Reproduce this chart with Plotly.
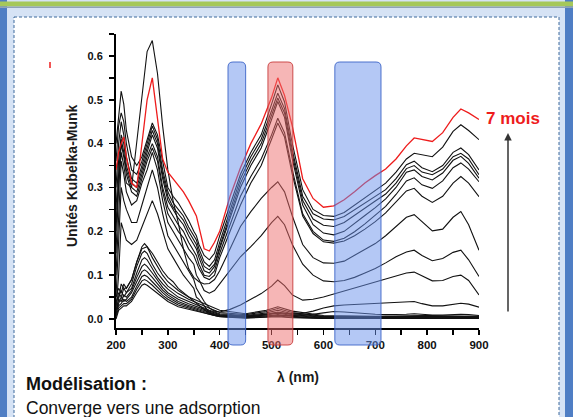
import plotly.graph_objects as go

# ---------------- data ----------------
wavelength = [200, 205, 210, 215, 220, 230, 240, 250, 260, 270, 280, 290, 300, 310, 320,
              330, 340, 350, 355, 360, 370, 380, 390, 400, 420, 440, 460, 480, 500, 512,
              525, 540, 560, 580, 600, 620, 640, 660, 680, 700, 720, 740, 760, 775, 790,
              810, 830, 850, 865, 880, 900]

mois7 = [0.34, 0.38, 0.40, 0.415, 0.37, 0.31, 0.30, 0.40, 0.50, 0.55, 0.46, 0.365, 0.335, 0.32, 0.305,
         0.29, 0.27, 0.245, 0.235, 0.21, 0.16, 0.155, 0.175, 0.20, 0.28, 0.345, 0.40, 0.445, 0.505, 0.55,
         0.51, 0.44, 0.32, 0.275, 0.255, 0.258, 0.272, 0.29, 0.31, 0.327, 0.342, 0.365, 0.395, 0.413, 0.41,
         0.405, 0.425, 0.46, 0.479, 0.47, 0.455]

c1 = [0.40, 0.47, 0.52, 0.49, 0.43, 0.37, 0.35, 0.37, 0.41, 0.447, 0.42, 0.36, 0.30, 0.28, 0.265,
      0.245, 0.225, 0.20, 0.19, 0.17, 0.145, 0.135, 0.15, 0.19, 0.26, 0.33, 0.38, 0.42, 0.49, 0.534,
      0.495, 0.40, 0.295, 0.25, 0.236, 0.234, 0.243, 0.26, 0.276, 0.292, 0.31, 0.335, 0.365, 0.378, 0.374,
      0.37, 0.392, 0.428, 0.443, 0.43, 0.409]
c2 = [0.36, 0.44, 0.47, 0.45, 0.40, 0.34, 0.33, 0.36, 0.40, 0.44, 0.41, 0.34, 0.29, 0.265, 0.25,
      0.235, 0.21, 0.19, 0.18, 0.16, 0.13, 0.12, 0.135, 0.175, 0.25, 0.32, 0.37, 0.41, 0.475, 0.515,
      0.48, 0.385, 0.28, 0.24, 0.228, 0.226, 0.234, 0.249, 0.264, 0.279, 0.295, 0.32, 0.352, 0.36, 0.345,
      0.336, 0.35, 0.38, 0.39, 0.375, 0.34]
c3 = [0.30, 0.40, 0.45, 0.42, 0.37, 0.32, 0.31, 0.35, 0.39, 0.43, 0.40, 0.33, 0.28, 0.255, 0.24,
      0.225, 0.20, 0.18, 0.17, 0.15, 0.12, 0.112, 0.125, 0.165, 0.24, 0.31, 0.36, 0.40, 0.465, 0.504,
      0.47, 0.375, 0.27, 0.228, 0.214, 0.211, 0.22, 0.237, 0.254, 0.269, 0.285, 0.31, 0.343, 0.35, 0.335,
      0.329, 0.342, 0.37, 0.378, 0.365, 0.329]
c4 = [0.25, 0.36, 0.42, 0.40, 0.35, 0.31, 0.30, 0.34, 0.38, 0.42, 0.39, 0.32, 0.27, 0.25, 0.23,
      0.215, 0.19, 0.17, 0.16, 0.14, 0.11, 0.105, 0.12, 0.16, 0.23, 0.30, 0.35, 0.39, 0.455, 0.496,
      0.46, 0.365, 0.26, 0.215, 0.196, 0.192, 0.20, 0.217, 0.236, 0.254, 0.274, 0.30, 0.335, 0.34, 0.325,
      0.317, 0.333, 0.362, 0.371, 0.355, 0.321]
c5 = [0.20, 0.33, 0.41, 0.38, 0.34, 0.30, 0.29, 0.33, 0.37, 0.40, 0.37, 0.30, 0.255, 0.235, 0.215,
      0.20, 0.175, 0.155, 0.145, 0.125, 0.10, 0.097, 0.11, 0.15, 0.215, 0.28, 0.325, 0.365, 0.42, 0.458,
      0.425, 0.34, 0.24, 0.20, 0.18, 0.177, 0.184, 0.199, 0.217, 0.236, 0.257, 0.284, 0.315, 0.322, 0.306,
      0.298, 0.315, 0.345, 0.356, 0.342, 0.313]
c6 = [0.15, 0.30, 0.40, 0.37, 0.33, 0.29, 0.28, 0.32, 0.36, 0.39, 0.36, 0.29, 0.24, 0.22, 0.20,
      0.185, 0.16, 0.145, 0.13, 0.115, 0.095, 0.09, 0.10, 0.14, 0.20, 0.26, 0.31, 0.35, 0.41, 0.447,
      0.415, 0.33, 0.235, 0.195, 0.176, 0.173, 0.178, 0.19, 0.205, 0.222, 0.242, 0.268, 0.292, 0.298, 0.28,
      0.266, 0.28, 0.31, 0.325, 0.31, 0.279]
c7 = [0.22, 0.30, 0.38, 0.35, 0.31, 0.30, 0.40, 0.50, 0.61, 0.635, 0.56, 0.44, 0.34, 0.27, 0.22,
      0.16, 0.115, 0.095, 0.09, 0.085, 0.08, 0.081, 0.09, 0.11, 0.16, 0.211, 0.245, 0.275, 0.30, 0.313,
      0.29, 0.235, 0.17, 0.14, 0.128, 0.127, 0.132, 0.145, 0.158, 0.172, 0.19, 0.21, 0.232, 0.238, 0.222,
      0.201, 0.205, 0.232, 0.245, 0.215, 0.157]
c8 = [0.10, 0.25, 0.36, 0.33, 0.29, 0.26, 0.27, 0.31, 0.34, 0.38, 0.34, 0.27, 0.22, 0.20, 0.18,
      0.16, 0.14, 0.125, 0.10, 0.09, 0.065, 0.059, 0.065, 0.08, 0.11, 0.142, 0.165, 0.19, 0.22, 0.234,
      0.215, 0.17, 0.125, 0.10, 0.087, 0.085, 0.088, 0.095, 0.105, 0.115, 0.128, 0.142, 0.153, 0.157, 0.145,
      0.133, 0.138, 0.152, 0.157, 0.135, 0.097]
c9 = [0.05, 0.18, 0.30, 0.27, 0.25, 0.22, 0.22, 0.26, 0.30, 0.34, 0.30, 0.24, 0.19, 0.17, 0.15,
      0.13, 0.11, 0.09, 0.07, 0.06, 0.04, 0.025, 0.018, 0.016, 0.022, 0.032, 0.045, 0.058, 0.075, 0.089,
      0.076, 0.055, 0.043, 0.045, 0.05, 0.057, 0.063, 0.07, 0.077, 0.084, 0.091, 0.099, 0.105, 0.107, 0.098,
      0.087, 0.088, 0.097, 0.10, 0.088, 0.055]
c10 = [0.02, 0.10, 0.22, 0.20, 0.18, 0.17, 0.18, 0.21, 0.24, 0.27, 0.24, 0.20, 0.16, 0.14, 0.12,
       0.10, 0.085, 0.07, 0.05, 0.045, 0.03, 0.015, 0.01, 0.008, 0.007, 0.007, 0.008, 0.01, 0.012, 0.014,
       0.013, 0.012, 0.013, 0.018, 0.025, 0.03, 0.032, 0.033, 0.034, 0.035, 0.036, 0.037, 0.039, 0.04, 0.035,
       0.03, 0.03, 0.034, 0.036, 0.034, 0.027]
c11 = [0.01, 0.05, 0.08, 0.07, 0.07, 0.09, 0.13, 0.16, 0.165, 0.15, 0.13, 0.11, 0.095, 0.085, 0.07,
       0.06, 0.05, 0.04, 0.035, 0.03, 0.02, 0.012, 0.008, 0.006, 0.005, 0.005, 0.006, 0.007, 0.008, 0.009,
       0.008, 0.008, 0.009, 0.011, 0.014, 0.017, 0.016, 0.014, 0.012, 0.011, 0.01, 0.01, 0.011, 0.012, 0.01,
       0.009, 0.009, 0.01, 0.011, 0.01, 0.008]

# early spectra (low curves)
wavelength_low = [200, 205, 210, 215, 220, 230, 240, 250, 255, 260, 270, 280, 290, 300, 320,
                  340, 360, 380, 400, 450, 490, 512, 540, 600, 700, 800, 900]
b1 = [0.05, 0.07, 0.06, 0.08, 0.07, 0.09, 0.13, 0.165, 0.172, 0.165, 0.14, 0.12, 0.10, 0.085, 0.065,
      0.05, 0.04, 0.03, 0.02, 0.012, 0.02, 0.028, 0.018, 0.008, 0.006, 0.008, 0.006]
b2 = [0.03, 0.06, 0.05, 0.07, 0.06, 0.08, 0.12, 0.15, 0.155, 0.15, 0.125, 0.105, 0.09, 0.075, 0.058,
      0.045, 0.035, 0.025, 0.015, 0.01, 0.017, 0.024, 0.015, 0.006, 0.005, 0.007, 0.005]
b3 = [0.04, 0.05, 0.065, 0.05, 0.06, 0.07, 0.105, 0.135, 0.14, 0.135, 0.115, 0.095, 0.08, 0.068, 0.05,
      0.04, 0.03, 0.02, 0.012, 0.008, 0.014, 0.02, 0.012, 0.005, 0.004, 0.006, 0.004]
b4 = [0.02, 0.045, 0.04, 0.055, 0.05, 0.065, 0.095, 0.12, 0.125, 0.12, 0.105, 0.088, 0.072, 0.06, 0.045,
      0.035, 0.026, 0.018, 0.01, 0.006, 0.011, 0.016, 0.01, 0.004, 0.003, 0.005, 0.003]
b5 = [0.01, 0.035, 0.05, 0.04, 0.045, 0.06, 0.085, 0.108, 0.112, 0.108, 0.095, 0.08, 0.066, 0.055, 0.04,
      0.031, 0.023, 0.015, 0.008, 0.005, 0.009, 0.013, 0.008, 0.003, 0.003, 0.004, 0.003]
b6 = [0.02, 0.03, 0.035, 0.045, 0.04, 0.05, 0.075, 0.097, 0.10, 0.097, 0.085, 0.072, 0.06, 0.05, 0.036,
      0.028, 0.02, 0.013, 0.007, 0.004, 0.007, 0.01, 0.006, 0.002, 0.002, 0.003, 0.002]
b7 = [0.005, 0.025, 0.03, 0.035, 0.035, 0.045, 0.068, 0.087, 0.09, 0.087, 0.077, 0.065, 0.054, 0.045, 0.032,
      0.025, 0.018, 0.011, 0.006, 0.003, 0.005, 0.007, 0.004, 0.002, 0.001, 0.002, 0.001]
b8 = [0.0, 0.02, 0.025, 0.03, 0.03, 0.04, 0.06, 0.077, 0.08, 0.077, 0.068, 0.058, 0.048, 0.04, 0.028,
      0.022, 0.016, 0.01, 0.005, 0.002, 0.003, 0.005, 0.003, 0.001, 0.001, 0.001, 0.001]

# highlighted wavelength bands (nm)
band_start = [416, 493, 622]
band_end = [450, 541, 711]
band_kind = ["blue", "red", "blue"]

x_ticks = [200, 300, 400, 500, 600, 700, 800, 900]
y_ticks = [0.0, 0.1, 0.2, 0.3, 0.4, 0.5, 0.6]

# ---------------- figure ----------------
W, H = 573, 417
ML, MR, MT, MB = 116, 94, 34, 89
PW, PH = W - ML - MR, H - MT - MB


def px_x(p):
    return (p - ML) / PW


def px_y(p):
    return (H - MB - p) / PH


fig = go.Figure()

for ys in [b8, b7, b6, b5, b4, b3, b2, b1]:
    fig.add_trace(go.Scatter(x=wavelength_low, y=ys, mode="lines",
                             line=dict(color="#111111", width=1.1), hoverinfo="skip"))
for ys in [c11, c10, c9, c8, c7, c6, c5, c4, c3, c2, c1]:
    fig.add_trace(go.Scatter(x=wavelength, y=ys, mode="lines",
                             line=dict(color="#111111", width=1.1), hoverinfo="skip"))
fig.add_trace(go.Scatter(x=wavelength, y=mois7, mode="lines",
                         line=dict(color="#ee1c1c", width=1.3), hoverinfo="skip"))

shapes = []
# slide decoration
shapes.append(dict(type="rect", xref="paper", yref="paper", x0=px_x(14), x1=px_x(559),
                   y0=px_y(17), y1=px_y(430), fillcolor="white", line=dict(width=0), layer="below"))
shapes.append(dict(type="rect", xref="paper", yref="paper", x0=px_x(14), x1=px_x(559),
                   y0=px_y(17), y1=px_y(440), fillcolor="rgba(0,0,0,0)",
                   line=dict(color="#3f6a9c", width=1, dash="3px,2px"), layer="below"))
shapes.append(dict(type="rect", xref="paper", yref="paper", x0=px_x(-2), x1=px_x(7),
                   y0=px_y(0), y1=px_y(420), fillcolor="#4f7ec4", line=dict(width=0), layer="below"))
shapes.append(dict(type="rect", xref="paper", yref="paper", x0=px_x(565), x1=px_x(575),
                   y0=px_y(0), y1=px_y(420), fillcolor="#4f7ec4", line=dict(width=0), layer="below"))
shapes.append(dict(type="rect", xref="paper", yref="paper", x0=px_x(-2), x1=px_x(575),
                   y0=px_y(1.5), y1=px_y(6.5), fillcolor="#a5c85a", line=dict(width=0), layer="below"))
shapes.append(dict(type="rect", xref="paper", yref="paper", x0=px_x(-2), x1=px_x(575),
                   y0=px_y(6.5), y1=px_y(8), fillcolor="#8fa3b8", line=dict(width=0), layer="below"))
# small red mark at top left
shapes.append(dict(type="line", xref="paper", yref="paper", x0=px_x(50), x1=px_x(50),
                   y0=px_y(62), y1=px_y(68), line=dict(color="#ee1c1c", width=1.5)))

# highlighted bands (rounded rectangles), positioned along the wavelength axis
band_top, band_bottom = px_y(62), px_y(345)
r_y = 5 / PH
for s, e, k in zip(band_start, band_end, band_kind):
    x0 = (s - 200) / 700
    x1 = (e - 200) / 700
    r_x = 5 / PW
    path = (f"M {x0 + r_x},{band_top} L {x1 - r_x},{band_top} Q {x1},{band_top} {x1},{band_top - r_y} "
            f"L {x1},{band_bottom + r_y} Q {x1},{band_bottom} {x1 - r_x},{band_bottom} "
            f"L {x0 + r_x},{band_bottom} Q {x0},{band_bottom} {x0},{band_bottom + r_y} "
            f"L {x0},{band_top - r_y} Q {x0},{band_top} {x0 + r_x},{band_top} Z")
    if k == "blue":
        fill, lc = "rgba(105,145,235,0.50)", "rgba(60,100,200,0.9)"
    else:
        fill, lc = "rgba(238,110,110,0.50)", "rgba(200,60,60,0.9)"
    shapes.append(dict(type="path", xref="paper", yref="paper", path=path,
                       fillcolor=fill, line=dict(color=lc, width=1), layer="above"))

annotations = [
    dict(text="Unités Kubelka-Munk", xref="paper", yref="paper", x=px_x(72), y=px_y(176),
         textangle=-90, showarrow=False, xanchor="center", yanchor="middle",
         font=dict(family="Liberation Sans, Arial", size=14, color="#1a1a1a", weight="bold")),
    dict(text="λ (nm)", xref="paper", yref="paper", x=px_x(298), y=px_y(377),
         showarrow=False, xanchor="center", yanchor="middle",
         font=dict(family="Liberation Sans, Arial", size=14, color="#1a1a1a", weight="bold")),
    dict(text="7 mois", xref="paper", yref="paper", x=px_x(484), y=px_y(118),
         showarrow=False, xanchor="left", yanchor="middle",
         font=dict(family="Liberation Sans, Arial", size=17, color="#ee1c1c", weight="bold")),
    dict(text="", xref="paper", yref="paper", x=px_x(508), y=px_y(133), ax=0, ay=180,
         showarrow=True, arrowhead=2, arrowsize=1, arrowwidth=1.5, arrowcolor="#333333"),
    dict(text="Modélisation :", xref="paper", yref="paper", x=px_x(24), y=px_y(384),
         showarrow=False, xanchor="left", yanchor="middle",
         font=dict(family="Liberation Sans, Arial", size=18, color="#111111", weight="bold")),
    dict(text="Converge vers une adsorption", xref="paper", yref="paper", x=px_x(24), y=px_y(408),
         showarrow=False, xanchor="left", yanchor="middle",
         font=dict(family="Liberation Sans, Arial", size=17.5, color="#111111")),
]

axis_font = dict(family="Liberation Sans, Arial", size=11, color="#111111", weight="bold")

fig.update_layout(
    width=W, height=H,
    margin=dict(l=ML, r=MR, t=MT, b=MB, pad=0),
    paper_bgcolor="#d6e3f5",
    plot_bgcolor="rgba(0,0,0,0)",
    showlegend=False,
    hovermode=False,
    shapes=shapes,
    annotations=annotations,
    xaxis=dict(range=[200, 900], tickvals=x_ticks, ticks="outside", ticklen=5, tickwidth=1.5,
               tickcolor="black", showline=True, linecolor="black", linewidth=2,
               showgrid=False, zeroline=False, tickfont=dict(axis_font, size=11.5),
               minor=dict(dtick=50, tick0=200, ticks="outside", ticklen=5, tickwidth=1.5, tickcolor="black",
                          showgrid=False)),
    yaxis=dict(range=[-0.0205, 0.650], tickvals=y_ticks, tickformat=".1f", ticks="outside", ticklen=5,
               tickwidth=1.5, tickcolor="black", showline=True, linecolor="black", linewidth=2,
               showgrid=False, zeroline=False, tickfont=axis_font, ticklabelstandoff=4,
               minor=dict(dtick=0.05, tick0=0, ticks="outside", ticklen=5, tickwidth=1.5, tickcolor="black",
                          showgrid=False)),
)

fig.write_html("out.html", config={"displayModeBar": False, "staticPlot": True},
               post_script="document.body.style.margin='0';document.body.style.overflow='hidden';")
